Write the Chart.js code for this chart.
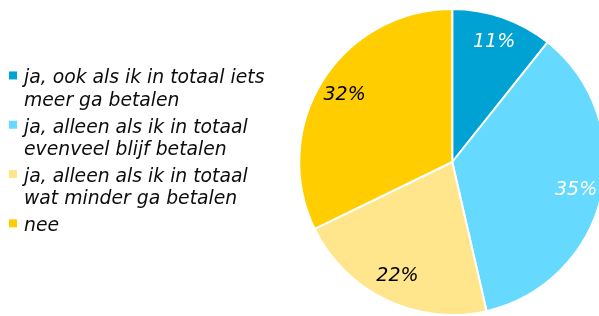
<!DOCTYPE html>
<html>
<head>
<meta charset="utf-8">
<script src="https://cdn.jsdelivr.net/npm/chart.js@4/dist/chart.umd.min.js"></script>
<style>
  html, body { margin: 0; padding: 0; background: #fff; overflow: hidden; }
  #wrap { width: 599px; height: 316px; overflow: hidden; position: relative; }
  canvas { display: block; }
</style>
</head>
<body>
<div id="wrap"><canvas id="c" width="630" height="316"></canvas></div>
<script>
// Categories (legend lines as shown in the reference)
const categories = [
  ['ja, ook als ik in totaal iets', 'meer ga betalen'],
  ['ja, alleen als ik in totaal', 'evenveel blijf betalen'],
  ['ja, alleen als ik in totaal', 'wat minder ga betalen'],
  ['nee']
];
// Series values (percent)
const values = [10.7, 35.7, 21.4, 32.2];
// Data label texts as printed in the chart
const valueLabels = ['11%', '35%', '22%', '32%'];
const sliceColors = ['#00A2D3', '#66D9FF', '#FFE68C', '#FFCD00'];
const labelColors = ['#ffffff', '#ffffff', '#000000', '#000000'];

// Legend marker: 8x8 square placed inside a 16x16 image (offset up/right)
function marker(color) {
  const c = document.createElement('canvas');
  c.width = 16; c.height = 16;
  const g = c.getContext('2d');
  g.fillStyle = color;
  g.fillRect(4, 1, 8, 8);
  return c;
}

const pctPlugin = {
  id: 'pctLabels',
  afterDatasetsDraw(chart) {
    const ctx = chart.ctx;
    const meta = chart.getDatasetMeta(0);
    ctx.save();
    ctx.font = 'italic 19px "DejaVu Sans"';
    ctx.textAlign = 'center';
    ctx.textBaseline = 'middle';
    meta.data.forEach((arc, i) => {
      const p = arc.getProps(['x', 'y', 'startAngle', 'endAngle', 'outerRadius'], true);
      const mid = (p.startAngle + p.endAngle) / 2;
      const r = p.outerRadius * 0.83;
      ctx.fillStyle = labelColors[i];
      ctx.fillText(valueLabels[i], p.x + Math.cos(mid) * r, p.y + Math.sin(mid) * r);
    });
    ctx.restore();
  }
};

new Chart(document.getElementById('c'), {
  type: 'pie',
  data: {
    labels: categories,
    datasets: [{
      data: values,
      backgroundColor: sliceColors,
      borderColor: '#ffffff',
      borderWidth: 2
    }]
  },
  options: {
    responsive: false,
    animation: false,
    layout: { padding: { left: 6.9, top: 8, bottom: 0, right: 0 } },
    plugins: {
      tooltip: { enabled: false },
      legend: {
        position: 'left',
        align: 'start',
        title: { display: true, text: '', padding: 0, font: { size: 10, lineHeight: '56.5px' } },
        labels: {
          usePointStyle: true,
          pointStyleWidth: 3.2,
          boxWidth: 8,
          boxHeight: 8,
          padding: 4.5,
          color: '#0d0d0d',
          font: { family: '"DejaVu Sans"', size: 18.8, style: 'italic', lineHeight: '22.4px' },
          generateLabels(chart) {
            return categories.map((lines, i) => ({
              text: lines,
              fillStyle: sliceColors[i],
              strokeStyle: sliceColors[i],
              lineWidth: 0,
              pointStyle: marker(sliceColors[i]),
              hidden: false,
              index: i,
              fontColor: '#0d0d0d'
            }));
          }
        }
      }
    }
  },
  plugins: [pctPlugin]
});
</script>
</body>
</html>
